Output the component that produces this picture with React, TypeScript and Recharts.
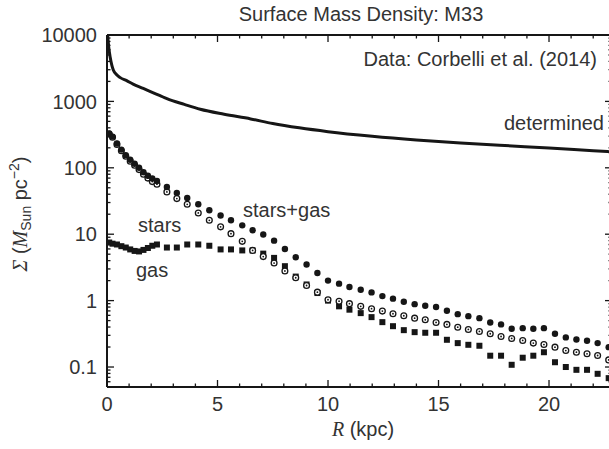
import { ComposedChart, Scatter, Line, XAxis, YAxis } from "recharts";

// galactocentric radius (kpc) of the binned surface densities
const radius = [
  0.1, 0.25, 0.45, 0.65, 0.85, 1.05, 1.25, 1.45, 1.65, 1.85, 2.05, 2.26,
  2.71, 3.16, 3.63, 4.13, 4.63, 5.14, 5.61, 6.12, 6.59, 7.07, 7.56, 8.05, 8.54, 9.03, 9.52, 10.0,
  10.5, 10.97, 11.48, 11.97, 12.46, 12.94, 13.43, 13.92, 14.4, 14.89, 15.38, 15.87, 16.35, 16.85,
  17.34, 17.83, 18.31, 18.81, 19.29, 19.77, 20.27, 20.76, 21.24, 21.72, 22.2, 22.7,
];

const starsGas = [
  330, 295, 232, 188, 155, 132, 115, 100, 86, 76, 69, 63.5,
  51.5, 41.9, 35.2, 28.3, 22.9, 19.1, 16.2, 13.6, 11.5, 9.9, 8.0, 6.0, 4.5, 3.5, 2.6, 2.0,
  1.8, 1.6, 1.46, 1.33, 1.17, 1.07, 0.96, 0.885, 0.838, 0.8, 0.705, 0.625, 0.583, 0.544,
  0.469, 0.438, 0.377, 0.385, 0.377, 0.385, 0.317, 0.279, 0.26, 0.248, 0.229, 0.199,
];

const stars = [
  322, 288, 225, 181, 149, 126, 109, 94, 80, 70, 62, 56.6,
  43.4, 34.4, 28.2, 20.9, 16.2, 12.9, 10.2, 7.8, 5.7, 4.6, 3.68, 2.79, 2.21, 1.69, 1.34, 1.03,
  0.98, 0.9, 0.82, 0.755, 0.695, 0.634, 0.592, 0.544, 0.515, 0.469, 0.438, 0.398, 0.368, 0.343,
  0.317, 0.288, 0.269, 0.251, 0.229, 0.218, 0.199, 0.177, 0.167, 0.158, 0.149, 0.128,
];

const gas = [
  7.5, 7.2, 7.0, 6.6, 6.3, 5.9, 5.6, 5.5, 5.8, 6.2, 6.7, 7.0,
  6.3, 6.3, 7.0, 7.0, 6.7, 5.9, 5.9, 5.7, 5.7, 5.1, 4.4, 3.3, 2.3, 1.75, 1.3, 1.0,
  0.82, 0.73, 0.648, 0.564, 0.474, 0.412, 0.359, 0.335, 0.328, 0.328, 0.257, 0.229, 0.216, 0.209,
  0.148, 0.148, 0.108, 0.138, 0.148, 0.167, 0.118, 0.1, 0.0907, 0.0907, 0.079, 0.068,
];

// dynamically determined surface density curve
const detRadius = [
  0.03, 0.08, 0.14, 0.22, 0.29, 0.45, 0.6, 0.89, 1.18, 1.64, 1.94, 2.4, 2.71, 3.5, 4.22,
  5.3, 6.5, 7.5, 8.7, 10, 12, 14, 16, 18, 20, 22, 22.85,
];
const detSigma = [
  10000, 6500, 4700, 3500, 2950, 2500, 2280, 2050, 1820, 1570, 1420, 1220, 1100, 900, 760,
  640, 545, 465, 400, 350, 298, 262, 236, 216, 199, 181, 174,
];

const xTicks = [0, 1, 2, 3, 4, 5, 6, 7, 8, 9, 10, 11, 12, 13, 14, 15, 16, 17, 18, 19, 20, 21, 22];
const xLabels = [0, 5, 10, 15, 20];
const yLabels = [0.1, 1, 10, 100, 1000, 10000];
const yTicks = [0.05, 0.06, 0.07, 0.08, 0.09].concat(
  ...yLabels.slice(0, -1).map((d) => [1, 2, 3, 4, 5, 6, 7, 8, 9].map((m) => m * d)),
  [10000]
);

const totalData = radius.map((r, i) => ({ r, v: starsGas[i] }));
const starsData = radius.map((r, i) => ({ r, v: stars[i] }));
const gasData = radius.map((r, i) => ({ r, v: gas[i] }));
const detData = detRadius.map((r, i) => ({ r, v: detSigma[i] }));

const INK = "#161616";
const TEXT = "#333";
const SANS = "'Liberation Sans', Arial, Helvetica, sans-serif";
const SERIF = "'Liberation Serif', 'Times New Roman', serif";

function XTick(props: any) {
  const { x, y, payload, side } = props;
  const major = xLabels.includes(payload.value);
  const len = major ? 7 : 3.5;
  const dir = side === "top" ? 1 : -1;
  return (
    <g>
      <line x1={x} x2={x} y1={y} y2={y + dir * len} stroke={INK} strokeWidth={1.3} />
      {side === "bottom" && major && (
        <text x={x} y={y + 24} textAnchor="middle" fontSize={20} fontFamily={SANS} fill={TEXT}>
          {payload.value}
        </text>
      )}
    </g>
  );
}

function YTick(props: any) {
  const { x, y, payload, side } = props;
  const lg = Math.log10(payload.value);
  const major = Math.abs(lg - Math.round(lg)) < 1e-6;
  const len = major ? 7 : 3.5;
  const dir = side === "left" ? 1 : -1;
  return (
    <g>
      <line x1={x} x2={x + dir * len} y1={y} y2={y} stroke={INK} strokeWidth={1.3} />
      {side === "left" && major && (
        <text x={x - 10} y={y} dy="0.36em" textAnchor="end" fontSize={20} fontFamily={SANS} fill={TEXT}>
          {payload.value}
        </text>
      )}
    </g>
  );
}

const filledDot = (p: any) => <circle cx={p.cx} cy={p.cy} r={3.2} fill={INK} />;
const openDot = (p: any) => (
  <g>
    <circle cx={p.cx} cy={p.cy} r={2.9} fill="#fff" stroke={INK} strokeWidth={1.3} />
    <circle cx={p.cx} cy={p.cy} r={0.9} fill={INK} />
  </g>
);
const square = (p: any) => <rect x={p.cx - 3} y={p.cy - 3} width={6} height={6} fill={INK} />;

const axisCommon = {
  allowDataOverflow: true,
  interval: 0 as const,
  tickSize: 0,
  tickMargin: 0,
  tickLine: false,
  axisLine: { stroke: INK, strokeWidth: 2 },
};

export default function App() {
  return (
    <div style={{ position: "fixed", left: 0, top: 0, width: 609, height: 449, overflow: "hidden", background: "#fff" }}>
      <ComposedChart width={620} height={449} margin={{ top: 34, right: 7, bottom: 61, left: 106 }}>
        <XAxis
          {...axisCommon}
          type="number"
          dataKey="r"
          domain={[0, 22.85]}
          ticks={xTicks}
          height={1}
          tick={(p: any) => <XTick {...p} side="bottom" />}
        />
        <XAxis
          {...axisCommon}
          xAxisId="top"
          orientation="top"
          type="number"
          dataKey="r"
          domain={[0, 22.85]}
          ticks={xTicks}
          height={1}
          tick={(p: any) => <XTick {...p} side="top" />}
        />
        <YAxis
          {...axisCommon}
          scale="log"
          type="number"
          domain={[0.05, 10000]}
          ticks={yTicks}
          width={1}
          tick={(p: any) => <YTick {...p} side="left" />}
        />
        <YAxis
          {...axisCommon}
          yAxisId="right"
          orientation="right"
          scale="log"
          type="number"
          domain={[0.05, 10000]}
          ticks={yTicks}
          width={1}
          tick={(p: any) => <YTick {...p} side="right" />}
        />
        <Line
          data={detData}
          dataKey="v"
          type="monotone"
          stroke={INK}
          strokeWidth={3}
          dot={false}
          isAnimationActive={false}
        />
        <Scatter data={gasData} dataKey="v" shape={square} isAnimationActive={false} />
        <Scatter data={starsData} dataKey="v" shape={openDot} isAnimationActive={false} />
        <Scatter data={totalData} dataKey="v" shape={filledDot} isAnimationActive={false} />
      </ComposedChart>
      <svg width={609} height={449} style={{ position: "absolute", left: 0, top: 0, pointerEvents: "none" }}>
        <g fontFamily={SANS} fontSize={20} fill={TEXT}>
          <text x={361} y={21} textAnchor="middle">Surface Mass Density: M33</text>
          <text x={597} y={66} textAnchor="end">Data: Corbelli et al. (2014)</text>
          <text x={604} y={130} textAnchor="end">determined</text>
          <text x={243} y={216.5}>stars+gas</text>
          <text x={138} y={231.5}>stars</text>
          <text x={136} y={277}>gas</text>
          <text x={363} y={436} textAnchor="middle">
            <tspan fontFamily={SERIF} fontStyle="italic">R</tspan> (kpc)
          </text>
          <text transform="translate(27,214) rotate(-90)" textAnchor="middle">
            <tspan fontFamily={SERIF} fontStyle="italic">Σ</tspan> (
            <tspan fontFamily={SERIF} fontStyle="italic">M</tspan>
            <tspan fontSize={14} dy={4}>Sun</tspan>
            <tspan dy={-4}> pc</tspan>
            <tspan fontSize={14} dy={-8}>−2</tspan>
            <tspan dy={8}>)</tspan>
          </text>
        </g>
      </svg>
    </div>
  );
}
